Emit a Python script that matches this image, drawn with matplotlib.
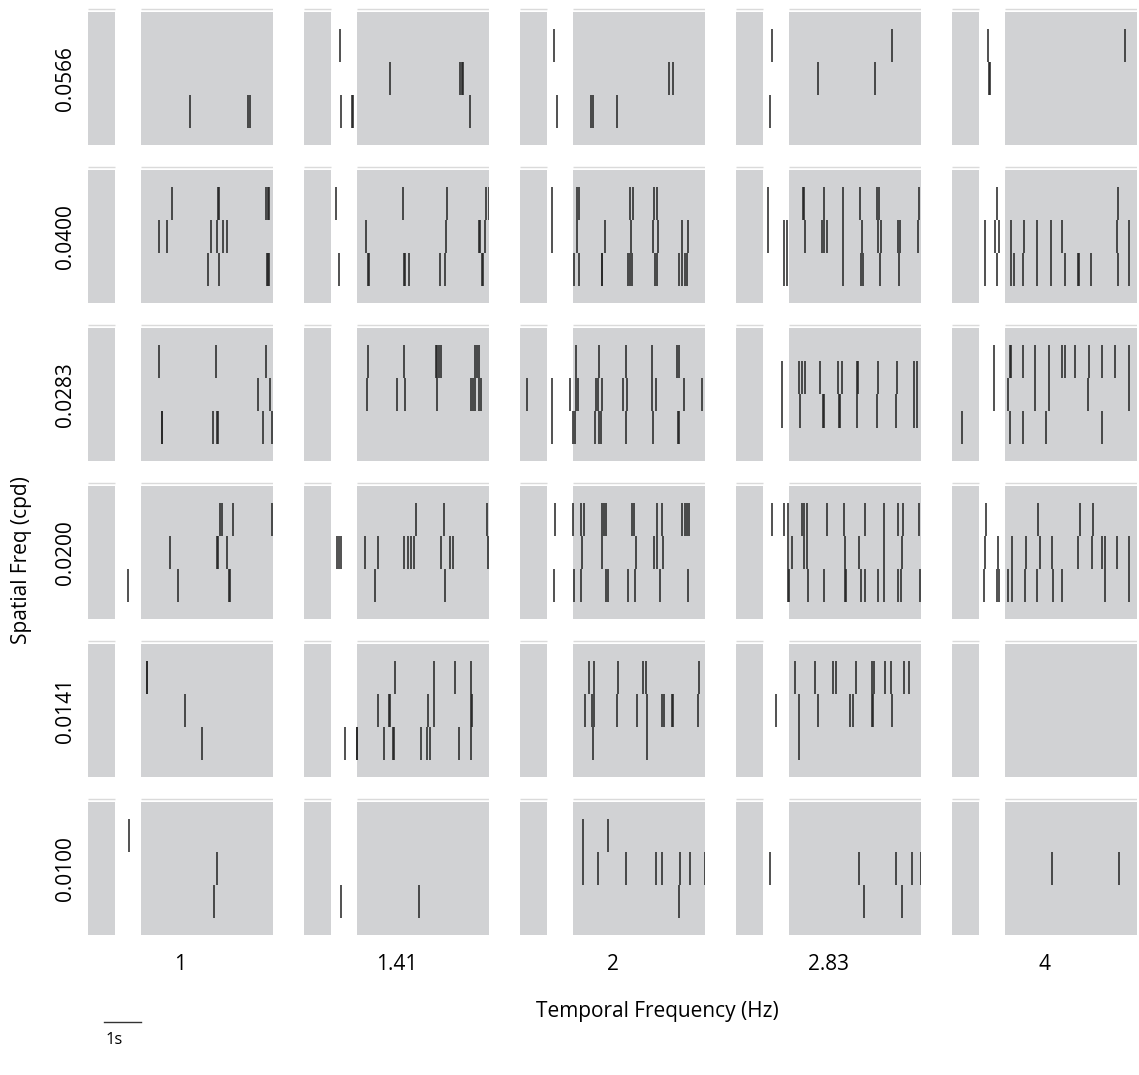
import matplotlib
matplotlib.use("Agg")
import matplotlib.pyplot as plt
import matplotlib.transforms as mtransforms

plt.rcParams['font.family'] = ['Open Sans', 'DejaVu Sans']

# grid labels
sf_labels = ['0.0566', '0.0400', '0.0283', '0.0200', '0.0141', '0.0100']
tf_labels = ['1', '1.41', '2', '2.83', '4']

# spike times (s) per temporal frequency, one list per trial, stimulus onset at 0
spikes_0566 = [
    [[], [], [1.32, 2.90, 2.93]],
    [[-0.46], [0.90, 2.78, 2.84, 2.87], [-0.43, -0.13, -0.11, 3.05]],
    [[-0.51], [2.59, 2.70], [-0.43, 0.49, 0.55, 1.19]],
    [[-0.46, 2.78], [0.79, 2.31], [-0.50]],
    [[-0.44, 3.24], [-0.42, -0.40], []],
]
spikes_0400 = [
    [[0.83, 2.07, 2.11, 3.38, 3.42, 3.45], [0.49, 0.72, 1.88, 2.05, 2.21, 2.32],
     [1.82, 2.10, 3.40, 3.43, 3.46]],
    [[-0.55, 1.25, 2.44, 3.48, 3.55], [0.26, 2.41, 3.30, 3.33, 3.46],
     [-0.47, 0.30, 0.32, 1.26, 1.29, 1.40, 2.23, 2.37, 3.38, 3.40]],
    [[-0.55, 0.11, 0.16, 1.54, 1.61, 2.19, 2.28], [-0.55, 0.11, 0.86, 1.57, 2.15, 2.30, 2.95, 3.11],
     [0.03, 0.16, 0.78, 0.80, 1.49, 1.54, 1.60, 2.22, 2.26, 2.86, 2.95, 3.02, 3.08]],
    [[-0.55, 0.39, 0.42, 0.95, 1.47, 1.91, 2.38, 2.43, 3.51],
     [-0.55, -0.12, -0.05, 0.44, 0.89, 0.95, 1.03, 1.45, 1.96, 2.40, 2.49, 2.94, 3.00, 3.48],
     [-0.12, -0.05, 1.45, 1.94, 2.00, 2.45, 2.98]],
    [[-0.21, 3.04], [-0.54, -0.25, -0.16, 0.17, 0.52, 0.86, 1.24, 1.55, 3.02, 3.35],
     [-0.54, -0.21, 0.17, 0.24, 0.50, 0.86, 1.25, 1.61, 1.96, 1.99, 2.31, 3.04, 3.35]],
]
spikes_0283 = [
    [[0.49, 2.02, 3.36], [3.16, 3.48], [0.56, 0.58, 1.95, 2.05, 2.08, 3.30, 3.54]],
    [[0.30, 1.26, 2.12, 2.16, 2.21, 2.27, 3.19, 3.23, 3.28],
     [0.27, 1.07, 1.29, 2.15, 3.07, 3.13, 3.19, 3.28, 3.35], []],
    [[0.08, 0.72, 1.44, 2.13, 2.80, 2.85],
     [-1.24, -0.56, -0.08, 0.09, 0.14, 0.63, 0.68, 0.78, 1.35, 1.46, 2.13, 2.25, 2.99, 3.49],
     [-0.56, 0.01, 0.05, 0.59, 0.72, 0.75, 1.42, 2.16, 2.82, 2.86]],
    [[-0.17, 0.27, 0.36, 0.43, 0.83, 1.32, 1.42, 1.85, 1.87, 2.40, 2.92, 3.38, 3.45],
     [-0.19, 0.30, 0.91, 0.96, 1.36, 1.38, 1.84, 2.37, 2.88, 3.37, 3.45]],
    [[-0.28, 0.13, 0.17, 0.49, 0.82, 1.19, 1.55, 1.61, 1.90, 2.26, 2.62, 2.98, 3.35],
     [-0.29, 0.10, 0.82, 1.19, 2.24, 3.35], [-1.14, 0.14, 0.49, 1.11, 2.62]],
]
spikes_0200 = [
    [[2.14, 2.20, 2.49, 3.54], [0.78, 2.06, 2.08, 2.32], [-0.35, 0.99, 2.38, 2.40]],
    [[1.59, 2.36, 3.50],
     [-0.52, -0.48, -0.43, 0.23, 0.58, 1.26, 1.39, 1.46, 1.53, 2.27, 2.50, 2.59, 3.52],
     [0.50, 2.38]],
    [[-0.49, 0.00, 0.21, 0.29, 0.78, 0.85, 0.90, 1.60, 1.65, 2.28, 2.40, 2.94, 3.03, 3.08, 3.13],
     [0.25, 0.80, 1.70, 2.19, 2.26, 2.43],
     [-0.50, 0.03, 0.23, 0.89, 0.94, 1.49, 1.68, 2.35, 3.09]],
    [[-0.46, -0.12, -0.03, 0.36, 0.42, 0.50, 1.02, 1.50, 2.05, 2.56, 2.93, 3.07, 3.50],
     [-0.03, 0.10, 0.40, 0.48, 1.51, 1.89, 2.56, 3.05],
     [-0.01, 0.02, 0.52, 0.94, 1.51, 1.53, 1.94, 2.05, 2.41, 2.56, 2.94, 3.02, 3.52]],
    [[-0.51, 0.89, 2.03, 2.38],
     [-0.53, -0.18, 0.19, 0.57, 0.95, 1.28, 1.96, 2.35, 2.61, 2.71, 3.01, 3.34],
     [-0.56, -0.22, -0.16, 0.10, 0.19, 0.55, 0.86, 1.30, 1.55, 2.71, 3.35]],
]
spikes_0141 = [
    [[0.16, 0.18], [1.18], [1.64]],
    [[1.02, 2.07, 2.65, 3.08], [0.57, 0.86, 0.90, 1.92, 2.09, 3.07, 3.09],
     [-0.32, 0.00, 0.02, 0.73, 0.97, 0.99, 1.72, 1.88, 1.97, 2.75, 3.07]],
    [[0.44, 0.57, 1.22, 1.88, 1.96, 3.41],
     [0.32, 0.51, 0.58, 1.19, 1.74, 2.00, 2.39, 2.45, 2.66, 2.71, 3.36], [0.55, 1.99]],
    [[0.18, 0.70, 1.19, 1.28, 1.81, 2.24, 2.30, 2.59, 2.75, 3.09, 3.24],
     [-0.35, 0.27, 0.78, 1.66, 1.73, 2.24, 2.26, 2.77], [0.27]],
    [[], [], []],
]
spikes_0100 = [
    [[-0.31], [2.05], [1.96]],
    [[], [], [-0.42, 1.67]],
    [[0.27, 0.96], [0.27, 0.67, 1.43, 2.23, 2.40, 2.88, 3.16, 3.55], [2.86]],
    [[], [-0.50, 1.89, 2.88, 3.33, 3.55], [2.02, 3.05]],
    [[], [1.28, 3.07], []],
]
all_spikes = [spikes_0566, spikes_0400, spikes_0283, spikes_0200, spikes_0141, spikes_0100]

# epochs (s)
pre_blank = (-1.42, -0.70)
stim_on = (0.0, 3.56)
t_min, t_max = -1.42, 3.56

W, H = 1139, 1075
fig = plt.figure(figsize=(W / 100, H / 100), dpi=100)

GRAY = '#d1d2d4'
RULE = '#dadada'
SPIKE = '#222222'

axes = []
for r in range(6):
    row_axes = []
    top_px = 12 + 158 * r
    bot_px = top_px + 133
    for c in range(5):
        left_px = 88 + 216 * c
        ax = fig.add_axes([left_px / W, 1 - bot_px / H, 185 / W, 137 / H])
        ax.set_xlim(t_min, t_max)
        ax.set_ylim(0, 4.12)
        ax.axis('off')
        for a, b in (pre_blank, stim_on):
            ax.axvspan(a, b, ymin=0, ymax=4 / 4.12, color=GRAY, lw=0, zorder=0)
            ax.hlines(4.08, a, b, color=RULE, lw=1.0, zorder=0)
        trials = all_spikes[r][c]
        n = len(trials)
        for k, times in enumerate(trials):
            y_top = 2 + n / 2 - k
            ax.vlines(times, y_top - 1, y_top, color=SPIKE, lw=1.1, zorder=2)
        row_axes.append(ax)
    axes.append(row_axes)

# row / column labels
for r, lab in enumerate(sf_labels):
    yc = 12 + 158 * r + 66.5
    fig.text(65 / W, 1 - yc / H, lab, rotation=90, ha='center', va='center', fontsize=15)
for c, lab in enumerate(tf_labels):
    xc = 88 + 216 * c + 92.5
    fig.text(xc / W, 1 - 965 / H, lab, ha='center', va='center', fontsize=15)

fig.text(22 / W, 1 - 560 / H, 'Spatial Freq (cpd)', rotation=90, ha='center', va='center', fontsize=15)
fig.text(657 / W, 1 - 1012 / H, 'Temporal Frequency (Hz)', ha='center', va='center', fontsize=15)

# 1 s scale bar under the first column
ax0 = axes[5][0]
trans = mtransforms.blended_transform_factory(ax0.transData, fig.transFigure)
ax0.plot([-1.0, 0.0], [1 - 1022 / H, 1 - 1022 / H], color='#333333', lw=1.0,
         transform=trans, clip_on=False)
ax0.text(-0.95, 1 - 1040 / H, '1s', transform=trans, ha='left', va='center', fontsize=12)

fig.savefig('out.png', dpi=100)
